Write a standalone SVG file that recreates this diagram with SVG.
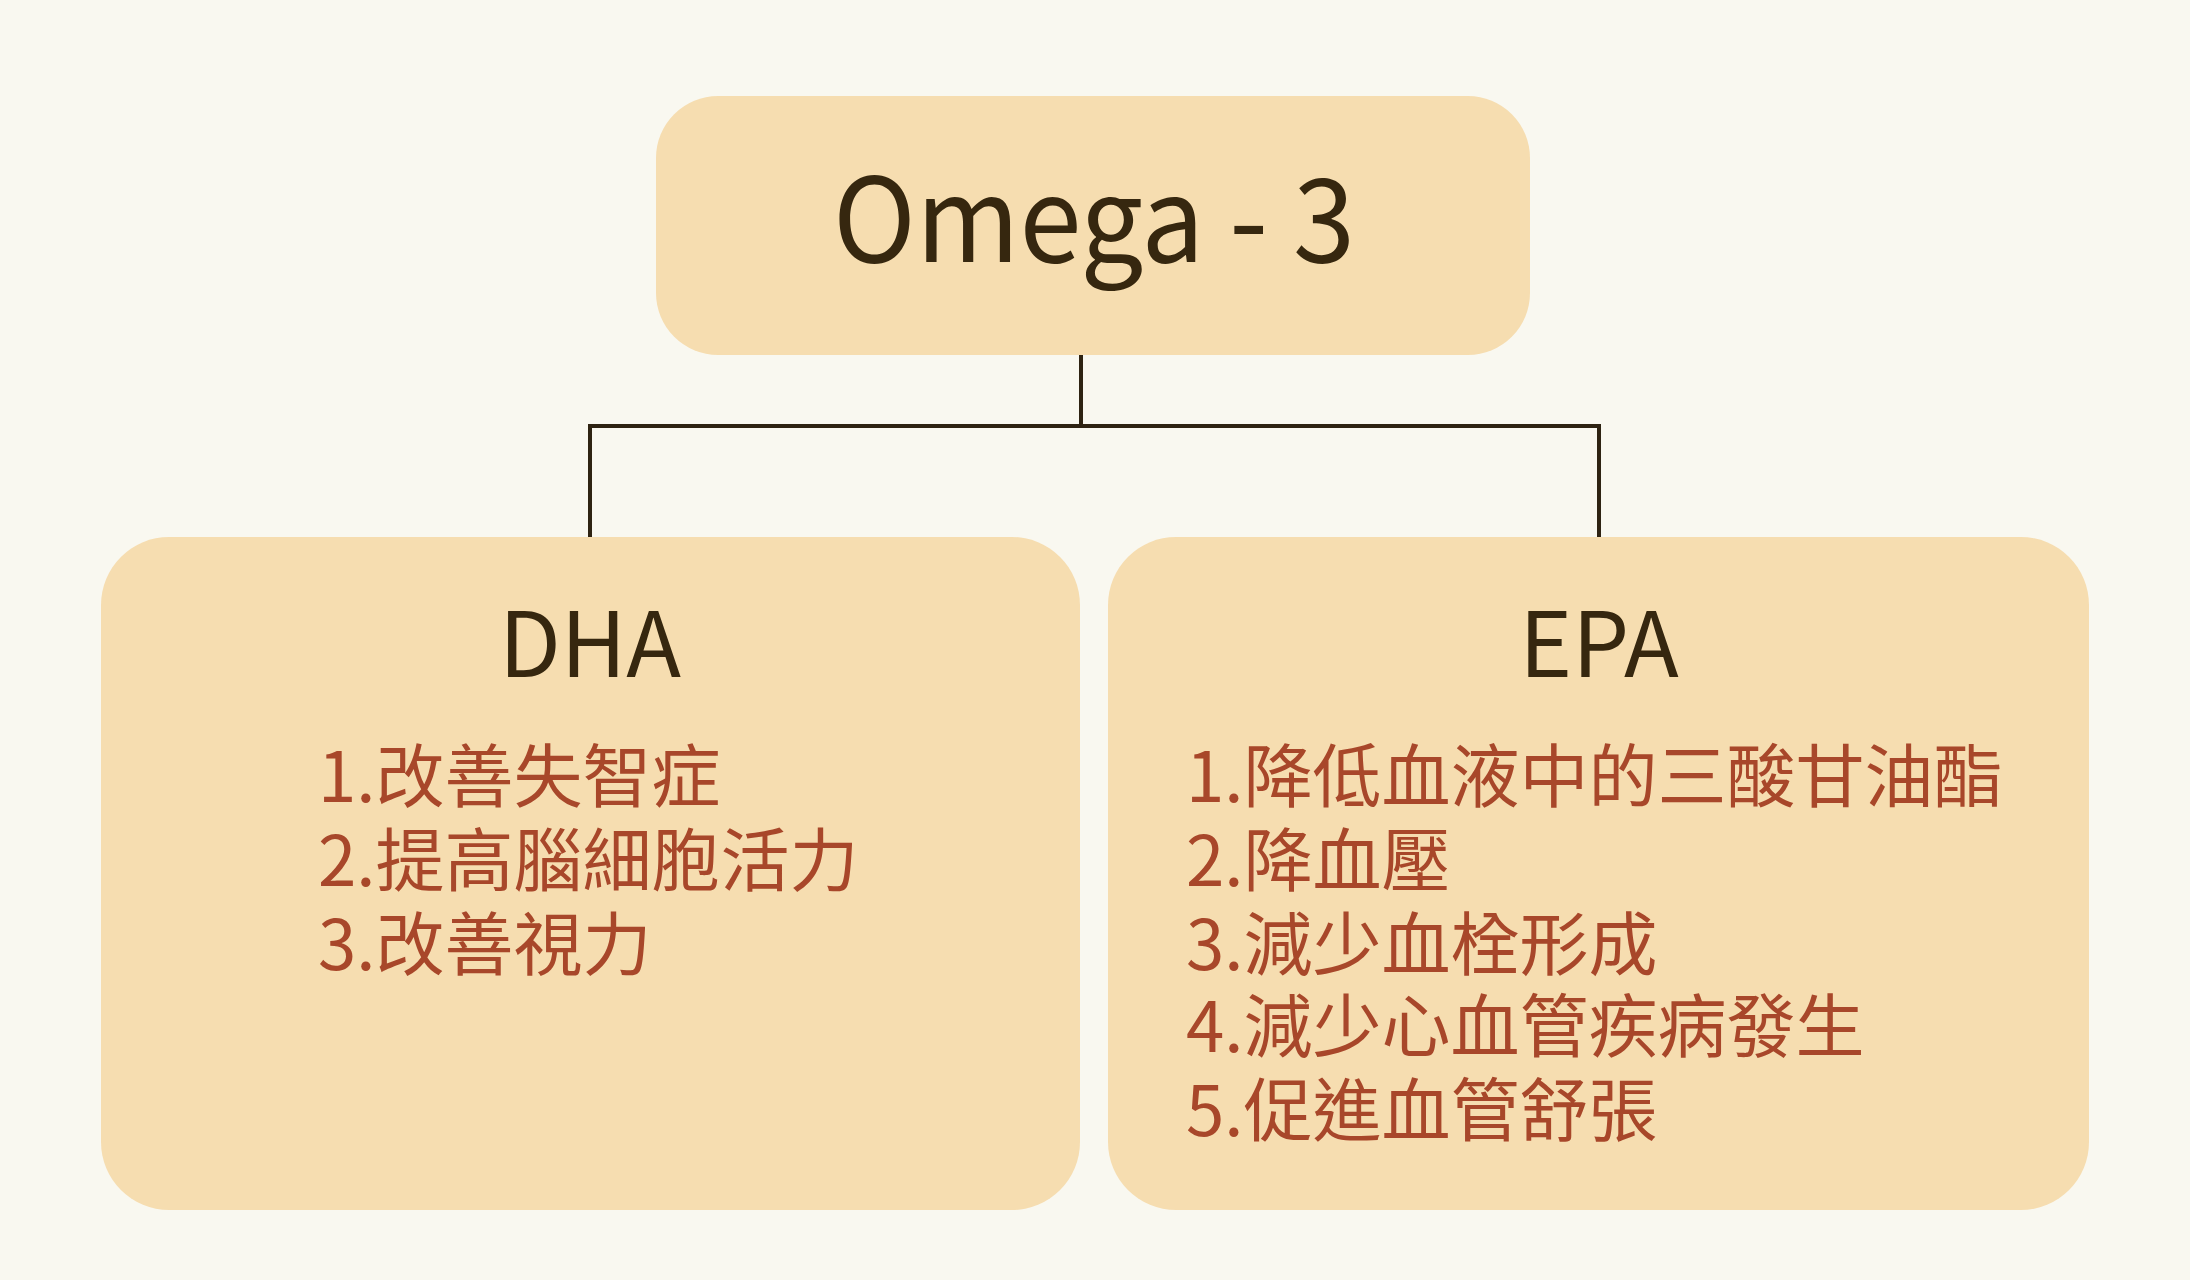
<svg xmlns="http://www.w3.org/2000/svg" width="2190" height="1280" viewBox="0 0 2190 1280">
<style>
.box{fill:#F6DDB0}
.title{font-family:"Noto Sans CJK TC","Noto Sans",sans-serif;fill:#36270F;text-anchor:middle}
.item{font-family:"Noto Sans CJK TC","Noto Sans CJK SC",sans-serif;font-size:69px;fill:#A8472A}
.conn{stroke:#2E2312;stroke-width:4;fill:none}
</style>
<rect width="2190" height="1280" fill="#F9F8F0"/>
<g id="connectors">
<path class="conn" d="M1081 355 V426 M590 426 H1599 M590 424 V537 M1599 424 V537"/>
</g>
<g id="omega3">
<rect class="box" x="656" y="96" width="874" height="259" rx="62"/>
<text class="title" x="1094" y="262" font-size="116" textLength="522" lengthAdjust="spacingAndGlyphs">Omega - 3</text>
</g>
<g id="dha">
<rect class="box" x="101" y="537" width="979" height="673" rx="68"/>
<text class="title" x="590" y="677" font-size="90">DHA</text>
<text class="item" x="318" y="802">1.改善失智症</text>
<text class="item" x="318" y="886">2.提高腦細胞活力</text>
<text class="item" x="318" y="970">3.改善視力</text>
</g>
<g id="epa">
<rect class="box" x="1108" y="537" width="981" height="673" rx="68"/>
<text class="title" x="1599" y="677" font-size="90">EPA</text>
<text class="item" x="1186" y="802">1.降低血液中的三酸甘油酯</text>
<text class="item" x="1186" y="886">2.降血壓</text>
<text class="item" x="1186" y="970">3.減少血栓形成</text>
<text class="item" x="1186" y="1052">4.減少心血管疾病發生</text>
<text class="item" x="1186" y="1136">5.促進血管舒張</text>
</g>
</svg>
